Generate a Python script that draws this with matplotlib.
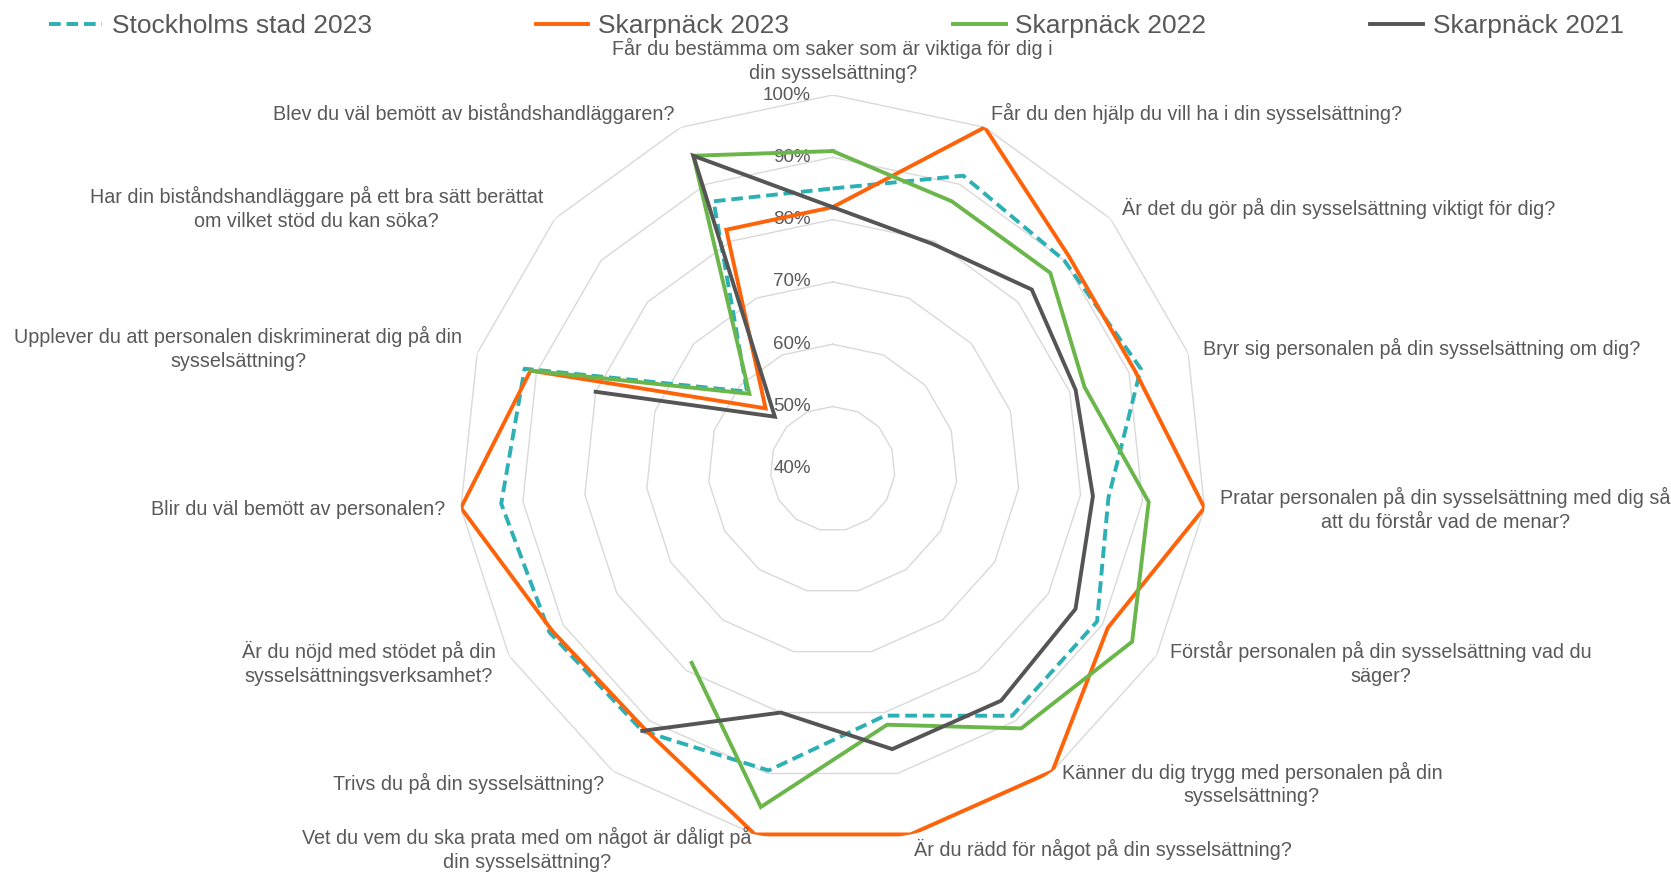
import numpy as np
import matplotlib
matplotlib.use("Agg")
import matplotlib.pyplot as plt
from matplotlib import transforms

plt.rcParams["font.family"] = ["Liberation Sans", "DejaVu Sans"]

CATEGORIES = [
    "Får du bestämma om saker som är viktiga för dig i\ndin sysselsättning?",
    "Får du den hjälp du vill ha i din sysselsättning?",
    "Är det du gör på din sysselsättning viktigt för dig?",
    "Bryr sig personalen på din sysselsättning om dig?",
    "Pratar personalen på din sysselsättning med dig så\natt du förstår vad de menar?",
    "Förstår personalen på din sysselsättning vad du\nsäger?",
    "Känner du dig trygg med personalen på din\nsysselsättning?",
    "Är du rädd för något på din sysselsättning?",
    "Vet du vem du ska prata med om något är dåligt på\ndin sysselsättning?",
    "Trivs du på din sysselsättning?",
    "Är du nöjd med stödet på din\nsysselsättningsverksamhet?",
    "Blir du väl bemött av personalen?",
    "Upplever du att personalen diskriminerat dig på din\nsysselsättning?",
    "Har din biståndshandläggare på ett bra sätt berättat\nom vilket stöd du kan söka?",
    "Blev du väl bemött av biståndshandläggaren?",
]

SERIES_NAMES = ["Stockholms stad 2023", "Skarpnäck 2023", "Skarpnäck 2022", "Skarpnäck 2021"]

stockholm_2023 = [85, 91.5, 90, 92, 84.5, 89, 89, 80.5, 89.5, 92, 92.5, 93.5, 92, 58.5, 87]
skarpnack_2023 = [82, 100, 91, 91, 100, 91, 100, 100, 100, 91.5, 92, 100, 91, 54.5, 82]
skarpnack_2022 = [91, 87, 87, 82.5, 91, 95.5, 91.5, 82, 95.5, 78.5, np.nan, np.nan, 91, 58, 95]
skarpnack_2021 = [82, 79.5, 83, 81, 82, 85, 86, 86, 80, 92, np.nan, np.nan, 80, 52.5, 95]

RING_TICKS = [40, 50, 60, 70, 80, 90, 100]

COLORS = ["#2DB0B3", "#FF6309", "#6BB64A", "#555555"]
TEXT = "#595959"
GRID = "#D9D9D9"

W, H = 1671, 873
CX, CY, R = 832.7, 468.8, 373.8  # centre and 100 % radius in pixels

fig = plt.figure(figsize=(W / 100, H / 100), dpi=100)
ax = fig.add_axes([(CX - R) / W, (H - CY - R) / H, 2 * R / W, 2 * R / H],
                  projection="polar")
ax.set_theta_zero_location("N")
ax.set_theta_direction(-1)
ax.set_rlim(40, 100)
ax.grid(False)
ax.spines["polar"].set_visible(False)
ax.set_xticks([])
ax.set_yticks([])
ax.patch.set_alpha(0)

n = len(CATEGORIES)
theta = np.linspace(0, 2 * np.pi, n, endpoint=False)
theta_closed = np.append(theta, theta[0])

# polygonal rings
for v in RING_TICKS[1:]:
    ax.plot(theta_closed, [v] * (n + 1), color=GRID, lw=1.0, zorder=1)

# radial tick labels, just left of the vertical axis
lab_tr = transforms.offset_copy(ax.transData, fig=fig, x=-22, y=0, units="dots")
for v in RING_TICKS:
    ax.text(0, v, f"{v}%", transform=lab_tr, ha="right", va="center",
            fontsize=13.5, color=TEXT, zorder=2)

series = [stockholm_2023, skarpnack_2023, skarpnack_2022, skarpnack_2021]
handles = []
for name, vals, color in zip(SERIES_NAMES, series, COLORS):
    vals = np.append(vals, vals[0])
    if name.startswith("Stockholms"):
        line, = ax.plot(theta_closed, vals, color=color, lw=2.8,
                        dashes=(3.0, 1.5), zorder=3, label=name)
    else:
        line, = ax.plot(theta_closed, vals, color=color, lw=2.8, zorder=3,
                        label=name, solid_joinstyle="miter")
    handles.append(line)

# category labels outside the outer ring
for ang, text in zip(theta, CATEGORIES):
    s = np.sin(ang)
    r_lab = 102.5
    if abs(s) < 1e-6:
        ha, va = "center", "bottom"
        r_lab = 102.0
    elif s > 0:
        ha, va = "left", "center"
    else:
        ha, va = "right", "center"
    ax.text(ang, r_lab, text, ha=ha, va=va, multialignment="center",
            fontsize=14.2, color=TEXT, linespacing=1.3)

fig.legend(handles=handles, loc="center", bbox_to_anchor=(0.5006, 1 - 26 / H),
           ncol=4, frameon=False, fontsize=19, handlelength=2.0,
           handletextpad=0.37, columnspacing=6.2, labelcolor=TEXT)

fig.savefig("out.png", dpi=100, facecolor="white")
